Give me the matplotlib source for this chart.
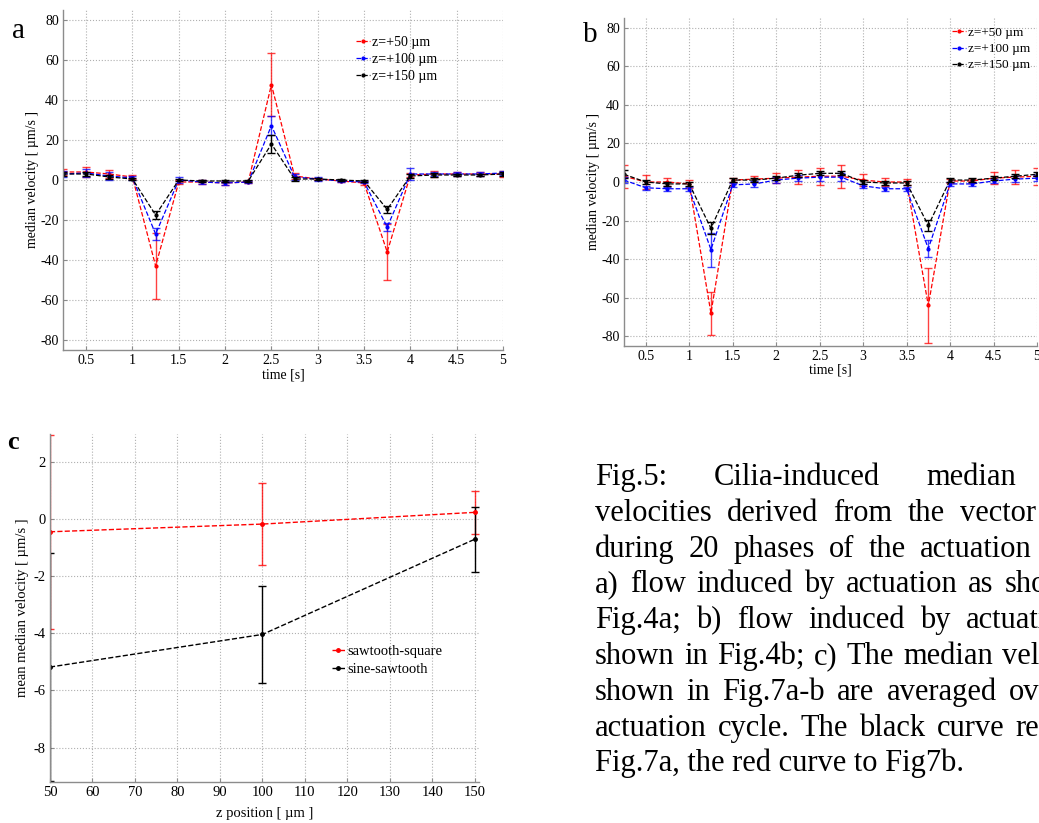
import matplotlib
matplotlib.use('Agg')
import matplotlib.pyplot as plt
from matplotlib.ticker import FormatStrFormatter

plt.rcParams['font.family'] = ['Liberation Serif', 'DejaVu Serif']
plt.rcParams['axes.unicode_minus'] = False

# ---- data, panel a / b: 20 phases of the actuation cycle
time_s = [0.25, 0.5, 0.75, 1.0, 1.25, 1.5, 1.75, 2.0, 2.25, 2.5,
          2.75, 3.0, 3.25, 3.5, 3.75, 4.0, 4.25, 4.5, 4.75, 5.0]
z_labels = ['z=+50 \u00b5m', 'z=+100 \u00b5m', 'z=+150 \u00b5m']

a_z50 = [4, 4, 3, 1.5, -43, -1, -1, -1.5, -1, 47.7, 2, 0.5, -0.5, -1.5, -36, 2.5, 3, 3, 3, 3]
a_z50_err = [1.5, 2.5, 2, 1, 16.7, 1, 1, 1, 0.5, 15.9, 1.5, 0.5, 0.5, 1, 13.8, 1, 1.5, 1, 1, 1.5]
a_z100 = [3, 3.5, 2, 1, -27, 0, -1, -1.5, -1, 27.2, 1.5, 0.5, -0.5, -1, -23.5, 3, 3, 3, 3, 3.5]
a_z100_err = [1.5, 2, 2, 1, 3.2, 1.5, 1, 1, 0.5, 4.8, 1.5, 1, 0.5, 0.5, 2.2, 3, 1, 1, 1, 1]
a_z150 = [3, 3, 1.5, 0.5, -17.5, 0, -0.5, -0.5, -0.5, 18, 0.5, 0.5, 0, -0.5, -14.7, 2, 2.5, 2.5, 2.5, 3]
a_z150_err = [1, 1, 1, 0.5, 1.9, 0.5, 0.5, 0.5, 0.5, 4.5, 1, 0.5, 0.5, 0.5, 1.7, 1, 1, 0.5, 0.5, 1]

b_z50 = [3, 0, 0, -1, -68, 1, 1.5, 2, 2.5, 3, 3, 1, 0, 0, -64, 0.5, 0.5, 2, 2.5, 3]
b_z50_err = [6, 3.5, 2, 2, 11.2, 1, 1.5, 2.5, 3.5, 4.5, 6, 3, 2, 1.5, 19.3, 1, 1, 3, 3.5, 4.5]
b_z100 = [1, -3, -3.5, -3.5, -35, -1.5, -1, 1, 2, 2.5, 2.5, -2, -3.5, -3.5, -34.5, -1, -1, 0.5, 1.5, 2]
b_z100_err = [1.5, 1, 1, 1, 8.8, 1, 1.5, 1.5, 1.5, 2, 2, 1, 1, 1, 4.4, 1, 1, 1, 1.5, 1.5]
b_z150 = [4, 0, -1, -1, -24, 1, 1, 2, 3.5, 4.5, 4.5, 0, -0.5, -0.5, -22.5, 1, 1, 2, 3, 4]
b_z150_err = [2, 1, 1, 1, 3.1, 1, 1, 1, 1, 1, 1, 1, 1, 1, 3, 1, 1, 1, 1, 1]

# ---- data, panel c
z_pos = [50, 100, 150]
saw_square = [-0.45, -0.18, 0.23]
saw_square_err = [3.4, 1.43, 0.74]
sine_saw = [-5.18, -4.04, -0.71]
sine_saw_err = [3.98, 1.7, 1.14]
c_labels = ['sawtooth-square', 'sine-sawtooth']

caption = ['Fig.5: Cilia-induced median flow',
           'velocities derived from the vector fields',
           'during 20 phases of the actuation cycle:',
           'a) flow induced by actuation as shown in',
           'Fig.4a; b) flow induced by actuation as',
           'shown in Fig.4b; c) The median velocities',
           'shown in Fig.7a-b are averaged over one',
           'actuation cycle. The black curve refers to',
           'Fig.7a, the red curve to Fig7b.']

FIG_W, FIG_H = 1039, 823
GRID = dict(linestyle=':', color='#b0b0b0', linewidth=0.8)


def px_axes(fig, left, top, right, bottom):
    return fig.add_axes([left / FIG_W, 1 - bottom / FIG_H,
                         (right - left) / FIG_W, (bottom - top) / FIG_H])


def style_axes(ax, fs):
    ax.grid(True, **GRID)
    ax.set_axisbelow(True)
    for side in ['top', 'right']:
        ax.spines[side].set_visible(False)
    for side in ['left', 'bottom']:
        ax.spines[side].set_color('#8c8c8c')
        ax.spines[side].set_linewidth(1.0)
    ax.tick_params(direction='in', length=3, color='#8c8c8c', labelsize=fs, pad=3)


def plot_phase_panel(ax, series, errs, legend_anchor, fs, leg_fs):
    colors = ['red', 'blue', 'black']
    for y, e, c, lab in zip(series, errs, colors, z_labels):
        ax.errorbar(time_s, y, yerr=e, fmt='none', ecolor=c, elinewidth=1.0,
                    capsize=3, capthick=1.0, alpha=0.75 if c != 'black' else 1.0)
        ax.plot(time_s, y, '--', color=c, linewidth=0.9, marker='.', markersize=4,
                label=lab)
    ax.set_xlim(0.25, 5)
    ax.set_ylim(-85, 85)
    ax.set_xticks([0.5, 1, 1.5, 2, 2.5, 3, 3.5, 4, 4.5, 5])
    ax.set_yticks([-80, -60, -40, -20, 0, 20, 40, 60, 80])
    ax.xaxis.set_major_formatter(FormatStrFormatter('%g'))
    style_axes(ax, fs)
    ax.set_xlabel('time [s]', fontsize=fs)
    ax.set_ylabel('median velocity [ \u00b5m/s ]', fontsize=fs)
    ax.legend(loc='center left', bbox_to_anchor=legend_anchor, frameon=False,
              fontsize=leg_fs, handlelength=1.0, handletextpad=0.15,
              labelspacing=0.3, borderpad=0, borderaxespad=0, numpoints=1)


def put_caption(fig, lines, x0, y0, dy, width, fs):
    renderer = fig.canvas.get_renderer()
    for i, line in enumerate(lines):
        y = 1 - (y0 + i * dy) / FIG_H
        if i == len(lines) - 1:
            fig.text(x0 / FIG_W, y, line, fontsize=fs, va='baseline')
            continue
        words = line.split()
        txts = [fig.text(0, y, w, fontsize=fs, va='baseline') for w in words]
        widths = [t.get_window_extent(renderer).width for t in txts]
        gap = (width - sum(widths)) / (len(words) - 1)
        x = x0
        for t, w in zip(txts, widths):
            t.set_x(x / FIG_W)
            x += w + gap


fig = plt.figure(figsize=(FIG_W / 100, FIG_H / 100), dpi=100)

# panel a
ax_a = px_axes(fig, 63, 10, 503, 350)
plot_phase_panel(ax_a, [a_z50, a_z100, a_z150], [a_z50_err, a_z100_err, a_z150_err],
                 (0.666, 0.855), 10, 10)
ax_a.yaxis.set_label_coords(-0.055, 0.5)
ax_a.xaxis.set_label_coords(0.5, -0.053)

# panel b
ax_b = px_axes(fig, 624, 18, 1037, 346)
plot_phase_panel(ax_b, [b_z50, b_z100, b_z150], [b_z50_err, b_z100_err, b_z150_err],
                 (0.795, 0.905), 10, 9.5)
ax_b.yaxis.set_label_coords(-0.057, 0.5)
ax_b.xaxis.set_label_coords(0.5, -0.052)

# panel c
ax_c = px_axes(fig, 50, 434, 479, 782)
ax_c.errorbar(z_pos, saw_square, yerr=saw_square_err, fmt='none', ecolor='red',
              elinewidth=1.0, capsize=3, capthick=1.0, alpha=0.8)
ax_c.errorbar(z_pos, sine_saw, yerr=sine_saw_err, fmt='none', ecolor='black',
              elinewidth=1.0, capsize=3, capthick=1.0)
ax_c.plot(z_pos, saw_square, '--', color='red', linewidth=1.0, marker='.',
          markersize=5, label=c_labels[0])
ax_c.plot(z_pos, sine_saw, '--', color='black', linewidth=1.0, marker='.',
          markersize=5, label=c_labels[1])
ax_c.set_xlim(50, 151)
ax_c.set_ylim(-9.2, 2.97)
ax_c.set_xticks(list(range(50, 151, 10)))
ax_c.set_yticks([-8, -6, -4, -2, 0, 2])
style_axes(ax_c, 10.5)
ax_c.set_xlabel('z position [ \u00b5m ]', fontsize=10.5)
ax_c.set_ylabel('mean median velocity [ \u00b5m/s ]', fontsize=10.5)
ax_c.yaxis.set_label_coords(-0.05, 0.5)
ax_c.xaxis.set_label_coords(0.5, -0.071)
ax_c.legend(loc='center left', bbox_to_anchor=(0.657, 0.349), frameon=False,
            fontsize=10.5, handlelength=0.9, handletextpad=0.15, labelspacing=0.3,
            borderpad=0, borderaxespad=0, numpoints=1)

# panel letters
fig.text(12 / FIG_W, 1 - 38 / FIG_H, 'a', fontsize=21, va='baseline')
fig.text(583 / FIG_W, 1 - 42 / FIG_H, 'b', fontsize=21, va='baseline')
fig.text(7 / FIG_W, 1 - 449 / FIG_H, 'c', fontsize=19, fontweight='bold', va='baseline')

# caption on the right (runs past the right edge, as in the source page)
put_caption(fig, caption, 595, 485, 35.8, 524, 22)

fig.savefig('out.png', dpi=100)
